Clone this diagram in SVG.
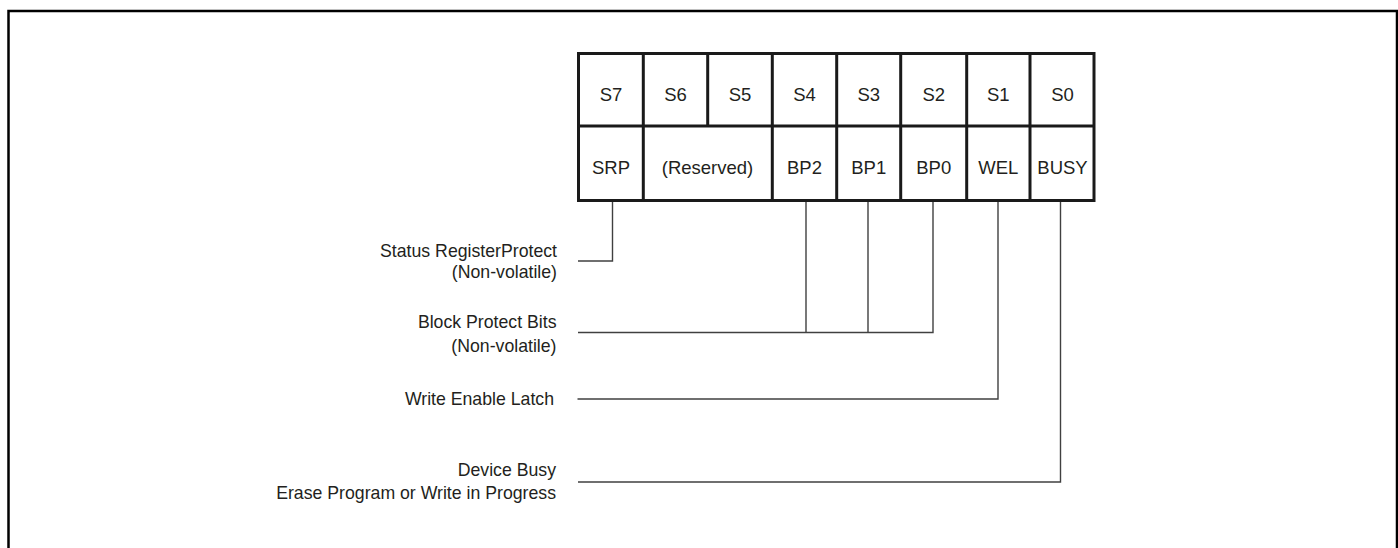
<svg xmlns="http://www.w3.org/2000/svg" width="1398" height="548" viewBox="0 0 1398 548">
<style>
.t{font-family:"Liberation Sans",Arial,Helvetica,sans-serif;fill:#231f20}
.c{font-size:18.5px;text-anchor:middle}
.l{font-size:17.7px;text-anchor:end}
.g{fill:none;stroke:#1a1a1a;stroke-width:3}
.w{fill:none;stroke:#404040;stroke-width:1.4}
</style>
<rect width="1398" height="548" fill="#fff"/>
<path d="M8.5,548 V11 H1397 V548" fill="none" stroke="#000" stroke-width="2.5"/>
<g id="register">
<rect class="g" x="578.5" y="53.5" width="515.5" height="147"/>
<path class="g" d="M578.5,126 H1094 M643.3,53.5 V200.5 M707.7,53.5 V126 M772.3,53.5 V200.5 M836.7,53.5 V200.5 M900.7,53.5 V200.5 M966.7,53.5 V202 M1030,53.5 V200.5"/>
<text class="t c" x="611" y="101">S7</text>
<text class="t c" x="675.5" y="101">S6</text>
<text class="t c" x="740" y="101">S5</text>
<text class="t c" x="804.5" y="101">S4</text>
<text class="t c" x="868.7" y="101">S3</text>
<text class="t c" x="933.7" y="101">S2</text>
<text class="t c" x="998.3" y="101">S1</text>
<text class="t c" x="1062.5" y="101">S0</text>
<text class="t c" x="611" y="174">SRP</text>
<text class="t c" x="707.5" y="174">(Reserved)</text>
<text class="t c" x="804.5" y="174">BP2</text>
<text class="t c" x="868.7" y="174">BP1</text>
<text class="t c" x="933.7" y="174">BP0</text>
<text class="t c" x="998.3" y="174">WEL</text>
<text class="t c" x="1062.5" y="174">BUSY</text>
</g>
<g id="label-srp">
<text class="t l" x="557" y="256.5">Status RegisterProtect</text>
<text class="t l" x="557" y="278">(Non-volatile)</text>
</g>
<g id="label-bp">
<text class="t l" x="556.5" y="327.5">Block Protect Bits</text>
<text class="t l" x="556.5" y="351.5">(Non-volatile)</text>
</g>
<g id="label-wel">
<text class="t l" x="554" y="405">Write Enable Latch</text>
</g>
<g id="label-busy">
<text class="t l" x="556" y="476">Device Busy</text>
<text class="t l" x="556" y="498.5">Erase Program or Write in Progress</text>
</g>
<g id="connectors">
<path class="w" d="M578,261 H612.5 V202"/>
<path class="w" d="M578,332.5 H933 V202 M806,332.5 V202 M868,332.5 V202"/>
<path class="w" d="M577.5,399 H998 V202"/>
<path class="w" d="M578,482 H1060.5 V202"/>
</g>
</svg>
